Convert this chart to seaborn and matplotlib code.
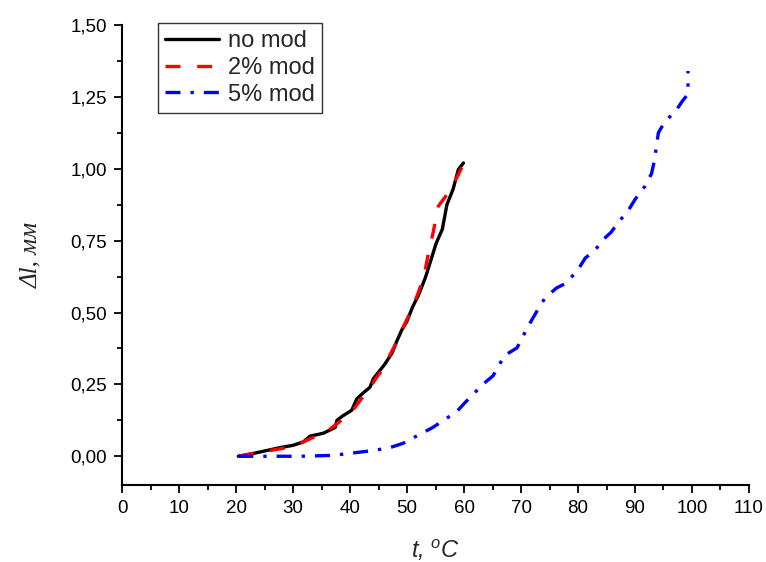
import numpy as np
import pandas as pd
import matplotlib
matplotlib.use('Agg')
import matplotlib.pyplot as plt
from matplotlib.ticker import MultipleLocator, FuncFormatter
import seaborn as sns

# temperature (C) and elongation (mm)
t_nomod = [20.4, 23.1, 25.4, 27.7, 30.0, 31.8, 33.0, 35.3, 37.4, 37.7, 38.7, 40.3, 41.2,
           42.3, 43.5, 44.1, 45.3, 46.1, 47.4, 48.2, 49.1, 50.0, 51.0, 52.0, 53.2,
           54.0, 55.1, 56.2, 57.0, 58.1, 59.0, 59.9]
l_nomod = [0.0, 0.01, 0.02, 0.03, 0.038, 0.05, 0.07, 0.08, 0.10, 0.125, 0.14, 0.16, 0.20,
           0.22, 0.24, 0.27, 0.30, 0.32, 0.36, 0.40, 0.44, 0.47, 0.52, 0.56, 0.62,
           0.67, 0.74, 0.79, 0.875, 0.93, 0.997, 1.02]

t_2mod = [20.5, 23.0, 26.0, 29.0, 31.3, 34.0, 36.5, 38.5, 40.5, 42.0, 43.3, 44.5, 46.0,
          47.2, 48.5, 49.6, 50.8, 52.0, 53.0, 53.7, 54.6, 55.5, 57.0, 58.5, 59.5, 61.1]
l_2mod = [0.0, 0.01, 0.02, 0.03, 0.045, 0.07, 0.095, 0.125, 0.16, 0.20, 0.23, 0.27, 0.31,
          0.36, 0.41, 0.46, 0.51, 0.57, 0.63, 0.70, 0.78, 0.87, 0.91, 0.96, 1.0, 1.05]

t_5mod = [20.4, 26.1, 31.3, 37.0, 44.1, 47.0, 49.3, 54.5, 58.7, 60.2, 63.3, 65.1, 67.1,
          69.3, 71.2, 73.0, 74.2, 76.2, 77.7, 79.8, 81.3, 83.0, 84.2, 85.8, 87.2, 88.7,
          90.0, 91.7, 92.9, 93.4, 93.8, 94.1, 95.3, 97.0, 98.3, 99.3, 99.3]
l_5mod = [0.0, 0.0, 0.0, 0.003, 0.02, 0.03, 0.045, 0.10, 0.155, 0.187, 0.25, 0.28, 0.35,
          0.377, 0.45, 0.512, 0.55, 0.585, 0.60, 0.643, 0.69, 0.716, 0.75, 0.779, 0.817,
          0.851, 0.893, 0.938, 0.983, 1.028, 1.083, 1.125, 1.166, 1.197, 1.235, 1.26, 1.34]

sns.set_style('ticks')
plt.rcParams['font.family'] = ['Liberation Sans', 'DejaVu Sans']
plt.rcParams['mathtext.fontset'] = 'custom'
plt.rcParams['mathtext.it'] = 'Liberation Sans:italic'
plt.rcParams['mathtext.rm'] = 'Liberation Sans'

fig = plt.figure(figsize=(7.66, 5.62), dpi=100)
ax = fig.add_axes([0.1593, 0.137, 0.8185, 0.8185])

df1 = pd.DataFrame({'t': t_nomod, 'dl': l_nomod})
df2 = pd.DataFrame({'t': t_2mod, 'dl': l_2mod})
df3 = pd.DataFrame({'t': t_5mod, 'dl': l_5mod})

sns.lineplot(data=df1, x='t', y='dl', ax=ax, sort=False, estimator=None,
             color='black', linewidth=2.4, label='no mod')
sns.lineplot(data=df2, x='t', y='dl', ax=ax, sort=False, estimator=None,
             color='red', linewidth=2.4, linestyle=(0, (4.5, 5)), label='2% mod')
sns.lineplot(data=df3, x='t', y='dl', ax=ax, sort=False, estimator=None,
             color='blue', linewidth=2.4, linestyle=(0, (4.5, 3, 1, 3)), label='5% mod')

ax.set_xlim(0, 110)
ax.set_ylim(-0.1, 1.5)
ax.xaxis.set_major_locator(MultipleLocator(10))
ax.xaxis.set_minor_locator(MultipleLocator(5))
ax.yaxis.set_major_locator(MultipleLocator(0.25))
ax.yaxis.set_minor_locator(MultipleLocator(0.125))
ax.yaxis.set_major_formatter(FuncFormatter(lambda v, p: f'{v:.2f}'.replace('.', ',')))

sns.despine(ax=ax)
for s in ['left', 'bottom']:
    ax.spines[s].set_linewidth(1.5)
    ax.spines[s].set_color('black')
ax.tick_params(which='major', direction='out', length=6, width=1.3, labelsize=13.5,
               colors='black', pad=5)
ax.tick_params(which='minor', direction='out', length=3.5, width=1.3, colors='black')

ax.set_xlabel(r'$t$, $^{o}C$', fontsize=17, fontstyle='italic', labelpad=15)
ax.set_ylabel('Δl, мм', fontsize=18, fontstyle='italic',
              family=['Liberation Serif', 'DejaVu Serif'], labelpad=20)

leg = ax.legend(loc='upper left', bbox_to_anchor=(0.0574, 1.004), fontsize=17,
                frameon=True, fancybox=False, edgecolor='black', handlelength=2.3,
                borderpad=0.3, labelspacing=0.2, handletextpad=0.35, borderaxespad=0.0)
leg.get_frame().set_linewidth(1.0)

fig.savefig('out.png', dpi=100)
